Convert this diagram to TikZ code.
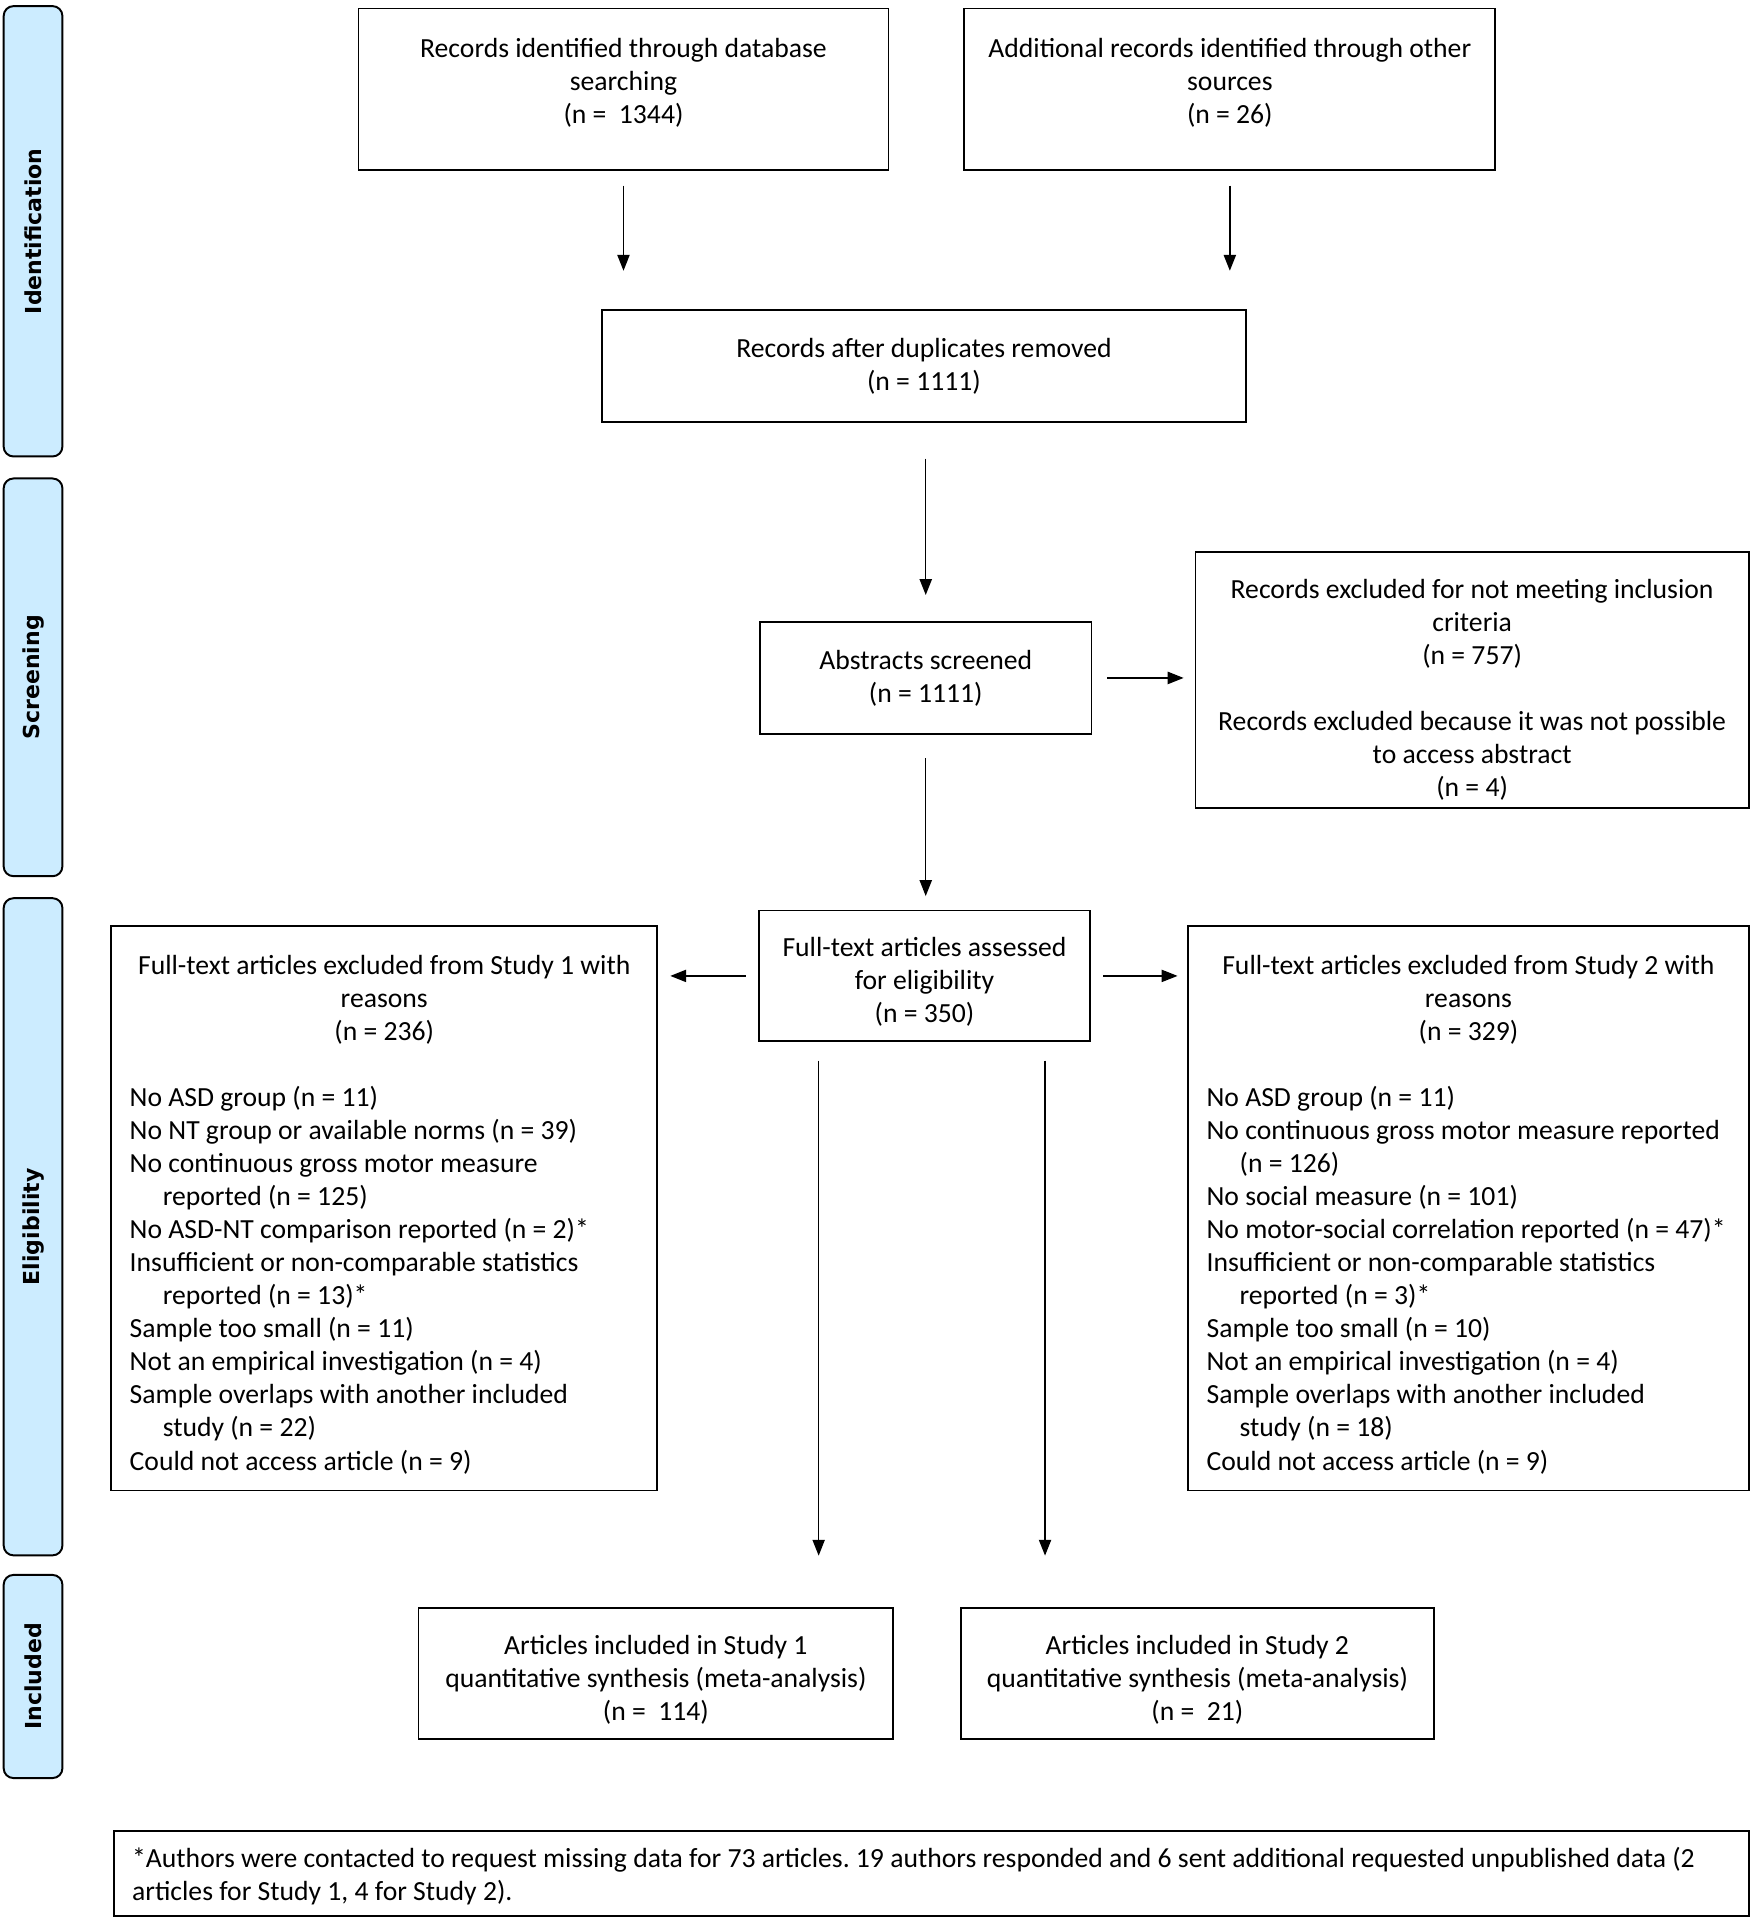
\documentclass[tikz,border=0pt]{standalone}
\usepackage{fontspec}
\setmainfont{Carlito}
\newfontfamily\tabfont{DejaVu Sans}
\usetikzlibrary{arrows.meta,calc}
\definecolor{tabblue}{RGB}{204,236,255}
% centred text block, raised by #1 without changing its size
\newcommand{\cblock}[3]{\raisebox{#1}[\height][\depth]{\parbox{#2}{\centering #3}}}
\frenchspacing
\begin{document}
\begin{tikzpicture}[x=1pt,y=-1pt,
  box/.style={draw, line width=1.5pt, inner sep=0pt,
    font=\fontsize{22.6}{27}\selectfont},
  tabbox/.style={draw, line width=1.6pt, fill=tabblue, rounded corners=8pt,
    rotate=90, minimum height=48pt, inner sep=0pt,
    font=\tabfont\bfseries\fontsize{18}{22}\selectfont},
  arr/.style={-{Triangle[length=13pt,width=10pt]}, line width=1.2pt}]
\useasboundingbox (0,0) rectangle (1432.5,1569);

% phase tabs
\node[tabbox, minimum width=368pt] (T1) at (27,189) {Identification};
\node[tabbox, minimum width=325pt] (T2) at (27,553.5) {Screening};
\node[tabbox, minimum width=537pt] (T3) at (27,1002.5) {Eligibility};
\node[tabbox, minimum width=166pt] (T4) at (27,1370) {Included};

% boxes
\node[box, minimum width=433pt, minimum height=132pt] (B1) at (509.5,73)
  {\cblock{5pt}{423pt}{Records identified through database\\searching\\(n = \ 1344)}};
\node[box, minimum width=434pt, minimum height=132pt] (B2) at (1005,73)
  {\cblock{5pt}{424pt}{Additional records identified through other\\sources\\(n = 26)}};
\node[box, minimum width=526pt, minimum height=92pt] (B3) at (755,299)
  {\cblock{0pt}{516pt}{Records after duplicates removed\\(n = 1111)}};
\node[box, minimum width=271pt, minimum height=92pt] (B4) at (756.5,554)
  {\cblock{0pt}{261pt}{Abstracts screened\\(n = 1111)}};
\node[box, minimum width=452pt, minimum height=209pt] (B5) at (1203,555.5)
  {\cblock{-8pt}{446pt}{Records excluded for not meeting inclusion\\criteria\\(n = 757)\\[27pt]Records excluded because it was not possible\\to access abstract\\(n = 4)}};
\node[box, minimum width=271pt, minimum height=107pt] (B6) at (755.5,797.5)
  {\cblock{-5pt}{265pt}{Full-text articles assessed\\for eligibility\\(n = 350)}};
\node[box, minimum width=446pt, minimum height=461pt] (B7) at (314,987.5)
  {\raisebox{-5pt}[\height][\depth]{\parbox{416pt}{\centering Full-text articles excluded from Study 1 with\\reasons\\(n = 236)\par\vspace{27pt}
  \raggedright
  \mbox{No ASD group (n = 11)}\\
  \mbox{No NT group or available norms (n = 39)}\\
  \mbox{No continuous gross motor measure}\\
  \mbox{\hspace*{27pt}reported (n = 125)}\\
  \mbox{No ASD-NT comparison reported (n = 2)*}\\
  \mbox{Insufficient or non-comparable statistics}\\
  \mbox{\hspace*{27pt}reported (n = 13)*}\\
  \mbox{Sample too small (n = 11)}\\
  \mbox{Not an empirical investigation (n = 4)}\\
  \mbox{Sample overlaps with another included}\\
  \mbox{\hspace*{27pt}study (n = 22)}\\
  \mbox{Could not access article (n = 9)}}}};
\node[box, minimum width=458pt, minimum height=461pt] (B8) at (1200,987.5)
  {\raisebox{-5pt}[\height][\depth]{\parbox{428pt}{\centering Full-text articles excluded from Study 2 with\\reasons\\(n = 329)\par\vspace{27pt}
  \raggedright
  \mbox{No ASD group (n = 11)}\\
  \mbox{No continuous gross motor measure reported}\\
  \mbox{\hspace*{27pt}(n = 126)}\\
  \mbox{No social measure (n = 101)}\\
  \mbox{No motor-social correlation reported (n = 47)*}\\
  \mbox{Insufficient or non-comparable statistics}\\
  \mbox{\hspace*{27pt}reported (n = 3)*}\\
  \mbox{Sample too small (n = 10)}\\
  \mbox{Not an empirical investigation (n = 4)}\\
  \mbox{Sample overlaps with another included}\\
  \mbox{\hspace*{27pt}study (n = 18)}\\
  \mbox{Could not access article (n = 9)}}}};
\node[box, minimum width=388pt, minimum height=107pt] (B9) at (536,1367.5)
  {\cblock{-5pt}{380pt}{Articles included in Study 1\\quantitative synthesis (meta-analysis)\\(n = \ 114)}};
\node[box, minimum width=387pt, minimum height=107pt] (B10) at (978.5,1367.5)
  {\cblock{-5pt}{379pt}{Articles included in Study 2\\quantitative synthesis (meta-analysis)\\(n = \ 21)}};
\node[box, minimum width=1336pt, minimum height=70pt] (F) at (761,1531)
  {\raisebox{-2pt}[\height][\depth]{\parbox{1306pt}{\raggedright
  \mbox{*Authors were contacted to request missing data for 73 articles. 19 authors responded and 6 sent additional requested unpublished data (2}\\
  \mbox{articles for Study 1, 4 for Study 2).}}}};

% connectors
\draw[arr, shorten <=12pt, shorten >=31pt] (B1.south) -- (B1.south |- B3.north);
\draw[arr, shorten <=12pt, shorten >=31pt] (B2.south) -- (B2.south |- B3.north);
\draw[arr, shorten <=29pt, shorten >=21pt] (B4.north |- B3.south) -- (B4.north);
\draw[arr, shorten <=12pt, shorten >=9pt] (B4.east) -- (B4.east -| B5.west);
\draw[arr, shorten <=19pt, shorten >=11pt] (B4.south) -- (B4.south |- B6.north);
\draw[arr, shorten <=10pt, shorten >=10pt] (B6.west) -- (B6.west -| B7.east);
\draw[arr, shorten <=10pt, shorten >=8pt] (B6.east) -- (B6.east -| B8.west);
\coordinate (s1) at ([xshift=-86.5pt]B6.south);
\coordinate (s2) at ([xshift=98.5pt]B6.south);
\draw[arr, shorten <=15pt, shorten >=42pt] (s1) -- (s1 |- B9.north);
\draw[arr, shorten <=15pt, shorten >=42pt] (s2) -- (s2 |- B10.north);
\end{tikzpicture}
\end{document}
